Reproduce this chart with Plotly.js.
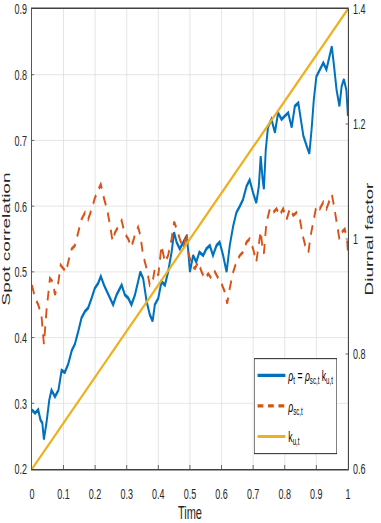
<!DOCTYPE html>
<html>
<head>
<meta charset="utf-8">
<script src="https://cdn.plot.ly/plotly-3.0.1.min.js"></script>
<style>
  html, body { margin: 0; padding: 0; background: #fff; }
  #wrap { width: 381px; height: 523px; overflow: hidden; position: relative; }
  #plot { width: 657px; height: 523px; transform: scaleX(0.5799); transform-origin: 0 0; }
</style>
</head>
<body>
<div id="wrap"><div id="plot"></div></div>
<script>
// rho_sc,t (orange, left axis)
const timeSc = [0.000,0.010,0.020,0.030,0.038,0.046,0.057,0.066,0.073,0.084,0.091,0.099,0.108,0.115,0.126,0.136,0.147,0.157,0.168,0.178,0.189,0.199,0.210,0.218,0.228,0.238,0.247,0.255,0.263,0.270,0.284,0.294,0.305,0.315,0.326,0.336,0.343,0.352,0.363,0.373,0.382,0.389,0.400,0.410,0.421,0.431,0.442,0.450,0.458,0.468,0.479,0.490,0.495,0.505,0.516,0.526,0.537,0.547,0.558,0.568,0.579,0.590,0.600,0.610,0.618,0.626,0.637,0.647,0.658,0.668,0.679,0.689,0.700,0.710,0.718,0.724,0.730,0.734,0.742,0.753,0.763,0.774,0.784,0.795,0.806,0.816,0.827,0.837,0.848,0.857,0.865,0.875,0.882,0.890,0.900,0.911,0.922,0.932,0.943,0.949,0.956,0.964,0.973,0.980,0.990,0.997,1.000];
const rhoSc = [0.480,0.460,0.450,0.435,0.390,0.440,0.490,0.485,0.465,0.485,0.510,0.505,0.500,0.515,0.535,0.540,0.560,0.580,0.590,0.580,0.595,0.612,0.625,0.633,0.612,0.595,0.572,0.547,0.560,0.566,0.578,0.558,0.550,0.538,0.556,0.568,0.556,0.525,0.505,0.480,0.485,0.505,0.495,0.540,0.515,0.525,0.550,0.576,0.566,0.550,0.535,0.560,0.530,0.510,0.505,0.515,0.500,0.490,0.497,0.490,0.500,0.490,0.482,0.470,0.452,0.475,0.500,0.515,0.525,0.530,0.545,0.550,0.535,0.515,0.540,0.562,0.535,0.528,0.575,0.596,0.590,0.596,0.586,0.596,0.580,0.596,0.586,0.590,0.580,0.555,0.540,0.530,0.555,0.575,0.600,0.596,0.606,0.596,0.610,0.618,0.600,0.575,0.550,0.560,0.565,0.550,0.530];

// rho_t (blue, left axis)
const timeRho = [0.000,0.010,0.020,0.027,0.033,0.038,0.046,0.055,0.062,0.073,0.084,0.094,0.104,0.115,0.126,0.136,0.147,0.157,0.168,0.178,0.189,0.199,0.210,0.218,0.228,0.238,0.247,0.257,0.268,0.284,0.294,0.305,0.315,0.326,0.336,0.343,0.352,0.363,0.373,0.382,0.389,0.400,0.410,0.421,0.431,0.442,0.450,0.458,0.468,0.479,0.490,0.495,0.500,0.510,0.520,0.530,0.542,0.552,0.563,0.573,0.584,0.594,0.605,0.616,0.626,0.637,0.647,0.658,0.668,0.679,0.689,0.700,0.710,0.718,0.724,0.730,0.734,0.740,0.747,0.758,0.769,0.779,0.790,0.800,0.811,0.822,0.832,0.843,0.850,0.859,0.869,0.878,0.885,0.892,0.900,0.911,0.922,0.932,0.943,0.949,0.956,0.964,0.973,0.980,0.987,0.995,1.000];
const rhoT = [0.290,0.285,0.290,0.275,0.270,0.245,0.270,0.305,0.320,0.310,0.320,0.350,0.347,0.360,0.380,0.390,0.410,0.430,0.440,0.445,0.460,0.475,0.483,0.493,0.480,0.470,0.462,0.450,0.465,0.480,0.465,0.460,0.450,0.465,0.485,0.500,0.490,0.455,0.435,0.425,0.450,0.460,0.485,0.480,0.500,0.530,0.560,0.545,0.535,0.545,0.555,0.530,0.500,0.525,0.515,0.530,0.525,0.535,0.540,0.525,0.540,0.545,0.525,0.500,0.540,0.570,0.590,0.600,0.610,0.630,0.640,0.620,0.605,0.630,0.676,0.641,0.626,0.686,0.720,0.732,0.712,0.742,0.732,0.737,0.742,0.720,0.752,0.757,0.737,0.707,0.692,0.680,0.717,0.762,0.797,0.808,0.818,0.808,0.833,0.843,0.813,0.777,0.752,0.782,0.793,0.777,0.737];

// k_u,t (yellow, right axis)
const timeK = [0, 1];
const kU = [0.6, 1.4];

// tick values / labels
const xTicks = [0, 0.1, 0.2, 0.3, 0.4, 0.5, 0.6, 0.7, 0.8, 0.9, 1];
const xTickText = ['0', '0.1', '0.2', '0.3', '0.4', '0.5', '0.6', '0.7', '0.8', '0.9', '1'];
const yTicks = [0.2, 0.3, 0.4, 0.5, 0.6, 0.7, 0.8, 0.9];
const yTickText = ['0.2', '0.3', '0.4', '0.5', '0.6', '0.7', '0.8', '0.9'];
const y2Ticks = [0.6, 0.8, 1.0, 1.2, 1.4];
const y2TickText = ['0.6', '0.8', '1', '1.2', '1.4'];

const legendNames = [
  '<i>ρ</i><sub>t</sub> = <i>ρ</i><sub>sc,t</sub> k<sub>u,t</sub>',
  '<i>ρ</i><sub>sc,t</sub>',
  'k<sub>u,t</sub>'
];

const FONT = 'Liberation Sans, Arial, Helvetica, sans-serif';

const traces = [
  { x: timeRho, y: rhoT, type: 'scatter', mode: 'lines', name: legendNames[0],
    legendgroup: 'a', line: { color: '#0072BD', width: 3.4 } },
  { x: timeSc, y: rhoSc, type: 'scatter', mode: 'lines', name: legendNames[1],
    legendgroup: 'b', line: { color: '#D95319', width: 3.2, dash: '10px,8px' } },
  { x: timeK, y: kU, type: 'scatter', mode: 'lines', name: legendNames[2],
    legendgroup: 'c', yaxis: 'y2', line: { color: '#EDB120', width: 3 } }
];

const tickFont = { size: 15.5, family: FONT, color: '#262626' };
const titleFont = { size: 19, family: FONT, color: '#262626' };

const layout = {
  width: 657, height: 523,
  margin: { l: 55, r: 57, t: 9, b: 54 },
  paper_bgcolor: '#fff', plot_bgcolor: '#fff',
  font: { family: FONT, color: '#262626', size: 16 },
  showlegend: true,
  legend: {
    x: 0.703, y: 0.241, xanchor: 'left', yanchor: 'top',
    bgcolor: '#fff', bordercolor: '#262626', borderwidth: 1,
    font: { family: FONT, size: 15, color: '#000' },
    traceorder: 'grouped', tracegroupgap: 8, itemwidth: 48
  },
  xaxis: {
    range: [0, 1], tickmode: 'array', tickvals: xTicks, ticktext: xTickText,
    ticks: 'inside', ticklen: 4, tickcolor: '#404040',
    showgrid: true, gridcolor: '#dedede', gridwidth: 1,
    showline: true, linecolor: '#404040', linewidth: 1.5, mirror: true,
    zeroline: false, ticklabelstandoff: 10, ticklabeloverflow: 'allow',
    tickfont: tickFont,
    title: { text: 'Time', font: titleFont, standoff: 8 },
    automargin: false
  },
  yaxis: {
    range: [0.2, 0.9], tickmode: 'array', tickvals: yTicks, ticktext: yTickText,
    ticks: 'inside', ticklen: 4, tickcolor: '#404040',
    showgrid: true, gridcolor: '#dedede', gridwidth: 1,
    showline: true, linecolor: '#404040', linewidth: 1.5, mirror: true,
    zeroline: false, ticklabelstandoff: 4, ticklabeloverflow: 'allow',
    tickfont: tickFont,
    title: { text: 'Spot correlation', font: titleFont, standoff: 2 },
    automargin: false
  },
  yaxis2: {
    range: [0.6, 1.4], tickmode: 'array', tickvals: y2Ticks, ticktext: y2TickText,
    overlaying: 'y', side: 'right',
    ticks: 'inside', ticklen: 4, tickcolor: '#404040',
    showgrid: false, showline: true, linecolor: '#404040', linewidth: 1.5,
    zeroline: false, ticklabelstandoff: 4, ticklabeloverflow: 'allow',
    tickfont: tickFont,
    title: { text: 'Diurnal factor', font: titleFont, standoff: 1 },
    automargin: false
  }
};

Plotly.newPlot('plot', traces, layout, { displayModeBar: false, staticPlot: true });
</script>
</body>
</html>
